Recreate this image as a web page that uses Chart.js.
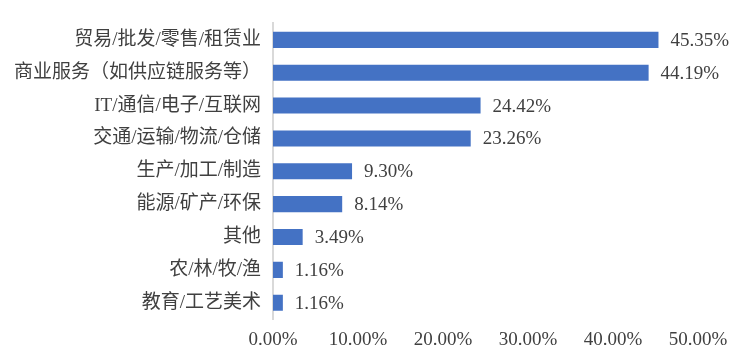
<!DOCTYPE html>
<html>
<head>
<meta charset="utf-8">
<script src="https://cdn.jsdelivr.net/npm/chart.js@4"></script>
<style>
  html, body { margin: 0; padding: 0; background: #fff; }
  #wrap { width: 750px; height: 360px; }
</style>
</head>
<body>
<div id="wrap"><canvas id="chart" width="750" height="360"></canvas></div>
<script>
let categories = ['贸易/批发/零售/租赁业', '商业服务（如供应链服务等）', 'IT/通信/电子/互联网', '交通/运输/物流/仓储',
  '生产/加工/制造', '能源/矿产/环保', '其他', '农/林/牧/渔', '教育/工艺美术'];
let shares = [45.35, 44.19, 24.42, 23.26, 9.30, 8.14, 3.49, 1.16, 1.16];
let axisTicks = [0, 10, 20, 30, 40, 50];

let fontFamily = '"Liberation Serif", "Noto Sans CJK SC", serif';
let textColor = '#404040';

// draws the value next to the end of every bar
let barLabels = {
  id: 'barLabels',
  afterDatasetsDraw(chart) {
    let ctx = chart.ctx;
    ctx.save();
    ctx.font = '19px ' + fontFamily;
    ctx.fillStyle = textColor;
    ctx.textAlign = 'left';
    ctx.textBaseline = 'middle';
    chart.getDatasetMeta(0).data.forEach((bar, i) => {
      ctx.fillText(shares[i].toFixed(2) + '%', bar.x + 12, bar.y + 1);
    });
    ctx.restore();
  }
};

window.onload = function() {
  let ctx = document.getElementById('chart').getContext('2d');
  new Chart(ctx, {
    type: 'bar',
    data: {
      labels: categories,
      datasets: [{ data: shares, backgroundColor: '#4472C4', categoryPercentage: 1, barPercentage: 0.49 }]
    },
    options: {
      indexAxis: 'y',
      responsive: false,
      animation: false,
      layout: { padding: { left: 2, right: 52, top: 23, bottom: 0 } },
      plugins: { legend: { display: false }, tooltip: { enabled: false } },
      scales: {
        x: {
          min: 0, max: 50,
          afterBuildTicks: axis => { axis.ticks = axisTicks.map(v => ({ value: v })); },
          grid: { display: false, drawTicks: false },
          border: { display: false },
          ticks: { color: textColor, padding: 9, maxRotation: 0, font: { size: 19, family: fontFamily },
            callback: v => v.toFixed(2) + '%' }
        },
        y: {
          grid: { display: false, drawTicks: false },
          border: { display: true, color: '#d9d9d9', width: 2 },
          ticks: { color: textColor, padding: 12, font: { size: 19, family: fontFamily } }
        }
      }
    },
    plugins: [barLabels]
  });
};
</script>
</body>
</html>
